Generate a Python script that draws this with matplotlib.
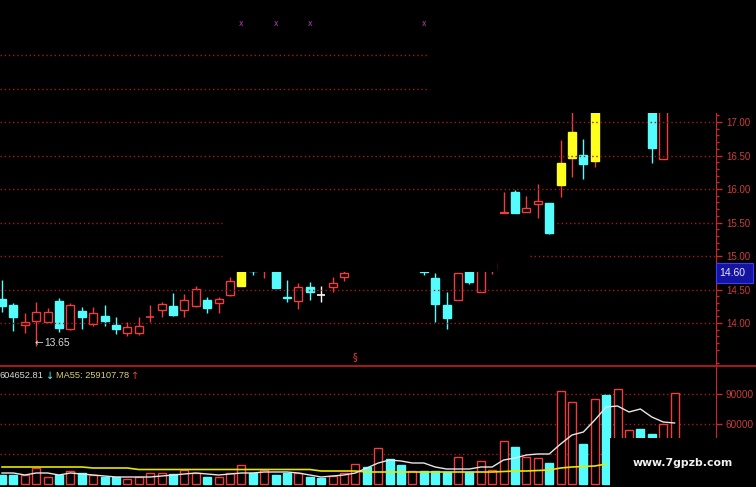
import matplotlib
matplotlib.use('Agg')
import matplotlib.pyplot as plt
import numpy as np
from matplotlib.patches import Rectangle
from matplotlib.lines import Line2D
import matplotlib.transforms as mtrans
from matplotlib.ticker import FixedLocator

nan = np.nan

# ---------------- data ----------------
opens = [14.36, 14.27, 13.97, 14.03, 14.02, 14.33, 13.91, 14.18, 13.99, 14.10,
         13.97, 13.85, 13.85, 14.08, 14.19, 14.25, 14.19, 14.25, 14.34, 14.30,
         14.42, 14.55, 14.85, 14.80, 14.85, 14.39, 14.33, 14.54, 14.42, 14.54,
         14.69, nan, nan, nan, nan, nan, nan, 14.85, 14.67, 14.27,
         14.34, 14.80, 14.46, 14.80, 15.64, 15.96, 15.66, 15.78, 15.79, 16.06,
         16.46, 16.51, 16.42, nan, nan, nan, nan, 17.30, 16.45, nan]
closes = [14.25, 14.09, 14.02, 14.16, 14.16, 13.93, 14.27, 14.09, 14.15, 14.03,
          13.91, 13.94, 13.96, 14.09, 14.28, 14.12, 14.34, 14.51, 14.22, 14.36,
          14.63, 14.80, 14.78, 14.90, 14.52, 14.37, 14.54, 14.46, 14.42, 14.60,
          14.75, nan, nan, nan, nan, nan, nan, 14.755, 14.28, 14.08,
          14.74, 14.61, 14.85, 14.90, 15.66, 15.64, 15.72, 15.82, 15.34, 16.39,
          16.85, 16.37, 17.30, nan, nan, nan, nan, 16.61, 17.30, nan]
highs = [14.64, 14.30, 14.15, 14.31, 14.22, 14.37, 14.30, 14.24, 14.24, 14.27,
         14.09, 14.02, 14.09, 14.27, 14.31, 14.45, 14.43, 14.55, 14.39, 14.39,
         14.69, 14.85, 14.90, 14.95, 14.90, 14.64, 14.60, 14.61, 14.55, 14.69,
         14.78, nan, nan, nan, nan, nan, nan, 14.90, 14.75, 14.46,
         14.74, 14.85, 14.90, 14.95, 15.96, 15.99, 15.90, 16.08, 15.79, 16.73,
         17.20, 16.75, 17.40, nan, nan, nan, nan, 17.40, 17.40, nan]
lows = [14.16, 13.88, 13.85, 13.65, 14.02, 13.87, 13.90, 13.91, 13.96, 13.96,
        13.84, 13.81, 13.82, 14.02, 14.09, 14.10, 14.09, 14.24, 14.15, 14.15,
        14.40, 14.55, 14.72, 14.67, 14.52, 14.31, 14.21, 14.34, 14.31, 14.46,
        14.63, nan, nan, nan, nan, nan, nan, 14.72, 14.02, 13.91,
        14.34, 14.58, 14.46, 14.73, 15.64, 15.64, 15.66, 15.57, 15.33, 15.88,
        16.18, 16.15, 16.33, nan, nan, nan, nan, 16.39, 16.45, nan]
highlight = [21, 49, 50, 52]          # yellow candles

volumes = [9000, 9000, 9000, 16000, 7000, 9000, 13000, 11000, 9000, 7000,
           7000, 5000, 7000, 11000, 11000, 10000, 14000, 11000, 7000, 7000,
           11000, 19000, 11000, 14000, 9000, 11000, 11000, 7000, 6000, 8000,
           11000, 20000, 17000, 36000, 25000, 19000, 13000, 13000, 13000, 12000,
           27000, 12000, 23000, 14000, 43000, 37000, 27000, 26000, 21000, 93000,
           82000, 40000, 85000, 89000, 95000, 54000, 55000, 50000, 60000, 91000]
vol_dir = ['d', 'd', 'u', 'u', 'u', 'd', 'u', 'd', 'u', 'd',
           'd', 'u', 'u', 'u', 'u', 'd', 'u', 'u', 'd', 'u',
           'u', 'u', 'd', 'u', 'd', 'd', 'u', 'd', 'd', 'u',
           'u', 'u', 'd', 'u', 'd', 'd', 'u', 'd', 'd', 'd',
           'u', 'd', 'u', 'u', 'u', 'd', 'u', 'u', 'd', 'u',
           'u', 'd', 'u', 'd', 'u', 'u', 'd', 'd', 'u', 'u']
vol_ma_white = [11000, 11000, 9000, 11000, 11000, 9000, 11000, 10000, 9000, 8000,
                7000, 7000, 7000, 7000, 8000, 9000, 10000, 11000, 10000, 9000,
                10000, 11000, 11000, 12000, 12000, 12000, 11000, 9000, 7000, 8000,
                9000, 11000, 16000, 21000, 24000, 23000, 21000, 21000, 17000, 15000,
                15000, 15000, 17000, 17000, 24000, 26000, 29000, 30000, 30000, 40000,
                49000, 52000, 64000, 77000, 78000, 72000, 75000, 67000, 62000, 61000]
vol_ma_yellow = [17000, 17000, 17000, 17000, 17000, 17000, 17000, 17000, 16000, 16000,
                 16000, 16000, 14500, 14500, 14500, 14500, 14500, 14500, 14500, 14500,
                 14500, 14500, 14500, 14500, 14500, 14500, 14500, 14500, 13000, 13000,
                 13000, 13000, 12000, 12000, 12000, 12000, 12000, 12000, 12000, 12000,
                 12000, 12000, 12000, 12000, 12500, 13000, 13000, 13500, 14000, 16000,
                 17000, 17500, 18000, 20000, nan, nan, nan, nan, nan, nan]

price_ticks = [14.00, 14.50, 15.00, 15.50, 16.00, 16.50, 17.00]
upper_grid = [17.50, 18.00]
vol_ticks = [60000, 90000]
vol_grid = [30000, 60000, 90000]
last_price = 14.60
low_mark = 13.65
low_mark_idx = 3
signal_idx = [21, 24, 27, 37]
dollar_idx = 31
header_ma = "604652.81"
header_ma55 = "MA55: 259107.78"

# ---------------- style ----------------
W, H = 756, 487
BG = 'black'
RED = '#f03c3c'
CYAN = '#54fcfc'
YEL = '#ffff1e'
GRID = '#a81818'
AXRED = '#c82828'
LBL = '#cc3c3c'
FONT = ['Liberation Sans', 'DejaVu Sans']
ARROWFONT = ['DejaVu Sans']

fig = plt.figure(figsize=(W / 100, H / 100), dpi=100, facecolor=BG)

def fy(y):
    return 1 - y / H

def xi(px):           # pixel x -> index coordinate
    return (px - 2) / 11.4

def py(y):            # pixel y -> price coordinate
    return 17 - (y - 122) / 67

xl, xr = xi(0), xi(716)

ax_p = fig.add_axes([0, (H - 365) / H, 716 / W, 365 / H], facecolor=BG)
ax_v = fig.add_axes([0, 0, 716 / W, 120 / H], facecolor=BG)
p_lo, p_hi = py(365), py(0)
ax_p.set_xlim(xl, xr)
ax_p.set_ylim(p_lo, p_hi)
ax_v.set_xlim(xl, xr)
ax_v.set_ylim(-3000, 117000)

n = len(opens)
idx = np.arange(n)
bw = 0.70

# ---------- candles ----------
for i in range(n):
    o, c, h, l = opens[i], closes[i], highs[i], lows[i]
    if np.isnan(o):
        continue
    if i in highlight:
        body_c, wick_c, face = YEL, RED, YEL
    elif c > o:
        body_c, wick_c, face = RED, RED, BG
    elif c < o:
        body_c, wick_c, face = CYAN, CYAN, CYAN
    else:
        body_c, wick_c, face = '#ffffff', '#ffffff', '#ffffff'
    ax_p.vlines(i, l, h, color=wick_c, lw=1.0, zorder=2)
    bot = min(o, c)
    ht = abs(c - o)
    if ht < 0.012:
        ax_p.hlines((o + c) / 2, i - bw / 2, i + bw / 2, color=body_c, lw=1.2, zorder=3)
    else:
        ax_p.bar(i, ht, bottom=bot, width=bw, facecolor=face, edgecolor=body_c,
                 linewidth=1.0, zorder=3)

# masked regions of the screenshot
ax_p.add_patch(Rectangle((xi(236), py(272)), xi(497) - xi(236), p_hi - py(272),
                         facecolor=BG, edgecolor='none', zorder=4))
ax_p.add_patch(Rectangle((xi(428), py(113)), xr - xi(428), p_hi - py(113),
                         facecolor=BG, edgecolor='none', zorder=4))

# grid lines (dotted)
gkw = dict(color=GRID, lw=1.0, ls=(0, (1, 2)), zorder=5)
for p in price_ticks:
    if p == 15.50:
        ax_p.hlines(p, xl, xi(222), **gkw)
        ax_p.hlines(p, xi(557), xr, **gkw)
    elif p == 15.00:
        ax_p.hlines(p, xl, xi(222), **gkw)
        ax_p.hlines(p, xi(530), xr, **gkw)
    else:
        ax_p.hlines(p, xl, xr, **gkw)
for p in upper_grid:
    ax_p.hlines(p, xl, xi(428), **gkw)

# axis styling price
for s in ['left', 'top', 'bottom']:
    ax_p.spines[s].set_visible(False)
ax_p.spines['right'].set_color(AXRED)
ax_p.spines['right'].set_bounds(p_lo, py(113))
ax_p.yaxis.tick_right()
ax_p.set_yticks(price_ticks)
ax_p.set_yticklabels(['%.2f' % t for t in price_ticks])
minor = [round(13.4 + 0.1 * k, 2) for k in range(38)]
minor = [m for m in minor if m <= 17.1 and abs(m * 2 - round(m * 2)) > 1e-6]
ax_p.yaxis.set_minor_locator(FixedLocator(minor))
ax_p.tick_params(axis='y', which='major', colors=AXRED, length=4, width=1,
                 labelsize=7.0, pad=3.5, labelcolor=LBL)
ax_p.tick_params(axis='y', which='minor', colors=AXRED, length=2, width=1)
for t in ax_p.get_yticklabels():
    t.set_family(FONT)
ax_p.set_xticks([])

# annotations on price pane
ax_p.annotate('\u2190', xy=(low_mark_idx, low_mark), xytext=(-2, 3),
              textcoords='offset pixels', ha='left', va='center', color='#d8d8d8',
              fontsize=7.5, family=ARROWFONT, zorder=6)
ax_p.annotate('%.2f' % low_mark, xy=(low_mark_idx, low_mark), xytext=(8, 3),
              textcoords='offset pixels', ha='left', va='center', color='#d8d8d8',
              fontsize=7.4, family=FONT, zorder=6)
for i in signal_idx:
    ax_p.text(i, py(23), 'x', color='#b43cb4', fontsize=5.5, ha='center', va='center', zorder=6)
ax_p.text(dollar_idx, py(357), '\u00a7', color=RED, fontsize=7,
          ha='center', va='center', zorder=6)

# last price box
trans = mtrans.blended_transform_factory(ax_p.transAxes, ax_p.transData)
box_top = py(263)
ax_p.add_patch(Rectangle((1.0, last_price), 37 / 716, box_top - last_price, transform=trans,
                         facecolor='#1414a0', edgecolor='#3c3cff', lw=0.8, clip_on=False, zorder=7))
ax_p.text(1.0 + 3 / 716, (last_price + box_top) / 2, '%.2f' % last_price, transform=trans,
          color='#e8e8ff', fontsize=7.5, family=FONT, ha='left', va='center', zorder=8,
          clip_on=False)

# ---------- volume ----------
for i in range(n):
    if vol_dir[i] == 'u':
        ax_v.bar(i, volumes[i], width=bw, facecolor=BG, edgecolor=RED, linewidth=1.0, zorder=3)
    else:
        ax_v.bar(i, volumes[i], width=bw, facecolor=CYAN, edgecolor=CYAN, linewidth=1.0, zorder=3)
ax_v.plot(idx, vol_ma_yellow, color='#e6e600', lw=1.2, zorder=4)
ax_v.plot(idx, vol_ma_white, color='#e6e6e6', lw=1.0, zorder=5)
for v in vol_grid:
    ax_v.axhline(v, color=GRID, lw=1.0, ls=(0, (1, 2)), zorder=1)
for s in ['left', 'top', 'bottom']:
    ax_v.spines[s].set_visible(False)
ax_v.spines['right'].set_color(AXRED)
ax_v.yaxis.tick_right()
ax_v.set_yticks(vol_ticks)
ax_v.set_yticklabels(['%d' % t for t in vol_ticks])
ax_v.tick_params(axis='y', colors=AXRED, length=4, width=1, labelsize=7.2, pad=3, labelcolor=LBL)
for t in ax_v.get_yticklabels():
    t.set_family(FONT)
ax_v.set_xticks([])

# separator line
fig.add_artist(Line2D([0, 1], [fy(366), fy(366)], color='#c81e1e', lw=1.2,
                      transform=fig.transFigure, zorder=10))

# header texts of volume pane
hy = fy(376)
fig.text(0 / W, hy, header_ma, color='#d8d8d8', fontsize=6.7, family=FONT, va='center', ha='left')
fig.text(46 / W, hy, '\u2193', color=CYAN, fontsize=7.0, family=ARROWFONT, va='center', ha='left')
fig.text(56 / W, hy, header_ma55, color='#dcd070', fontsize=6.7, family=FONT, va='center', ha='left')
fig.text(131 / W, hy, '\u2191', color=RED, fontsize=7.0, family=ARROWFONT, va='center', ha='left')

# watermark box
fig.add_artist(Rectangle((610 / W, 0), 1 - 610 / W, (H - 438) / H, transform=fig.transFigure,
                         facecolor=BG, edgecolor='none', zorder=20))
fig.text(683 / W, fy(463), 'www.7gpzb.com', color='#f0f0f0', fontsize=7.8,
         fontweight='bold', family=['DejaVu Sans'], ha='center', va='center', zorder=21)

fig.savefig('out.png', dpi=100, facecolor=BG)
